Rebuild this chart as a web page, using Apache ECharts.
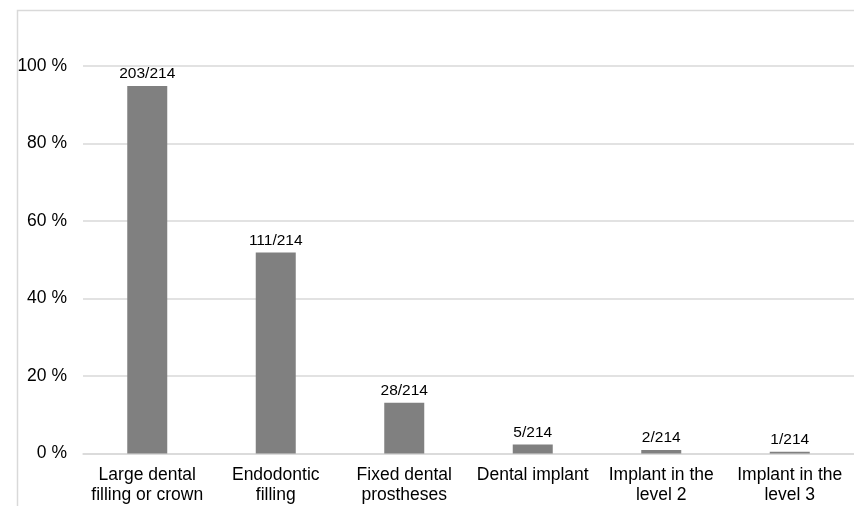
<!DOCTYPE html>
<html>
<head>
<meta charset="utf-8">
<script src="https://cdn.jsdelivr.net/npm/echarts@6/dist/echarts.min.js"></script>
<style>
  html, body { margin: 0; padding: 0; background: #fff; }
  #chart { width: 854px; height: 506px; }
</style>
</head>
<body>
<div id="chart"></div>
<script>
// Treatment categories and patient counts (out of the whole cohort)
const categories = [
  'Large dental\nfilling or crown',
  'Endodontic\nfilling',
  'Fixed dental\nprostheses',
  'Dental implant',
  'Implant in the\nlevel 2',
  'Implant in the\nlevel 3'
];
const counts = [203, 111, 28, 5, 2, 1];
const total = 214;
const percentTicks = [0, 20, 40, 60, 80, 100];

// Share of patients, in percent, for each category
const percentages = counts.map(c => c / total * 100);

const FONT = '"Liberation Sans", Arial, sans-serif';
const chart = echarts.init(document.getElementById('chart'), null, { renderer: 'canvas' });

chart.setOption({
  backgroundColor: '#ffffff',
  animation: false,
  graphic: [{
    type: 'rect',
    left: 15, top: 8,
    shape: { width: 1000, height: 700 },
    style: { fill: 'none', stroke: '#d9d9d9', lineWidth: 1.5 },
    silent: true,
    z: -1
  }],
  grid: { left: 83, top: 66, width: 782, bottom: 52.5, containLabel: false },
  xAxis: {
    type: 'category',
    data: categories,
    axisLine: { show: true, lineStyle: { color: '#d9d9d9', width: 1.5 } },
    axisTick: { show: false },
    axisLabel: {
      color: '#000', fontFamily: FONT, fontSize: 17.5, lineHeight: 20,
      margin: 12, interval: 0
    }
  },
  yAxis: {
    type: 'value',
    min: percentTicks[0],
    max: percentTicks[percentTicks.length - 1],
    interval: 20,
    axisLine: { show: false },
    axisTick: { show: false },
    splitLine: { lineStyle: { color: '#d9d9d9', width: 1.5 } },
    axisLabel: {
      color: '#000', fontFamily: FONT, fontSize: 17.5, margin: 16,
      formatter: v => v + ' %'
    }
  },
  series: [{
    type: 'bar',
    data: percentages,
    barWidth: 40,
    itemStyle: { color: '#808080' },
    label: {
      show: true,
      position: 'top',
      distance: 4,
      color: '#000',
      fontFamily: FONT,
      fontSize: 15.5,
      formatter: p => counts[p.dataIndex] + '/' + total
    }
  }]
});
</script>
</body>
</html>
